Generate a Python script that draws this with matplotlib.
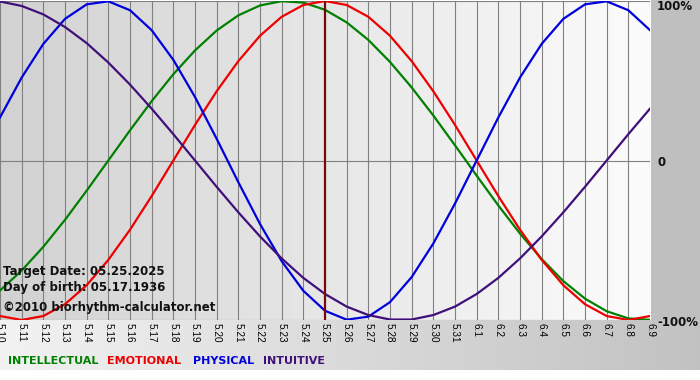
import numpy as np
import matplotlib
matplotlib.use("Agg")
import matplotlib.pyplot as plt

# day labels, 5.10 .. 6.9
dates = ["5.%d" % d for d in range(10, 32)] + ["6.%d" % d for d in range(1, 10)]
target_idx = 15  # 5.25

# values, one per day (-1 .. 1)
physical = [0.270, 0.520, 0.731, 0.888, 0.979, 0.998, 0.942, 0.817, 0.631, 0.398,
            0.136, -0.136, -0.398, -0.631, -0.817, -0.942, -0.998, -0.979, -0.888,
            -0.731, -0.520, -0.270, 0.000, 0.270, 0.520, 0.731, 0.888, 0.979, 0.998,
            0.942, 0.817]
emotional = [-0.975, -1.000, -0.975, -0.901, -0.782, -0.623, -0.434, -0.223, 0.000,
             0.223, 0.434, 0.623, 0.782, 0.901, 0.975, 1.000, 0.975, 0.901, 0.782,
             0.623, 0.434, 0.223, 0.000, -0.223, -0.434, -0.623, -0.782, -0.901,
             -0.975, -1.000, -0.975]
intellectual = [-0.815, -0.690, -0.541, -0.372, -0.189, 0.000, 0.189, 0.372, 0.541,
                0.690, 0.815, 0.910, 0.972, 0.999, 0.990, 0.945, 0.866, 0.756, 0.618,
                0.458, 0.282, 0.095, -0.095, -0.282, -0.458, -0.618, -0.756, -0.866,
                -0.945, -0.990, -0.999]
intuitive = [0.997, 0.969, 0.916, 0.837, 0.736, 0.614, 0.476, 0.325, 0.165, 0.000,
             -0.165, -0.325, -0.476, -0.614, -0.736, -0.837, -0.916, -0.969, -0.997,
             -0.997, -0.969, -0.916, -0.837, -0.736, -0.614, -0.476, -0.325, -0.165,
             0.000, 0.165, 0.325]

series = [("INTELLECTUAL", intellectual, "#008000"),
          ("EMOTIONAL", emotional, "#ee0000"),
          ("PHYSICAL", physical, "#0000dd"),
          ("INTUITIVE", intuitive, "#40107a")]

W, H = 700, 380
fig = plt.figure(figsize=(W / 100, H / 100), dpi=100)

# page background: grey panel right, gradient strip at bottom, white footer
bg = np.ones((H, W, 3))
bg[:320, 651:] = 0.75
ramp = np.linspace(0.95, 0.76, W)
bg[320:370, :] = ramp[None, :, None]
bax = fig.add_axes([0, 0, 1, 1])
bax.imshow(bg, extent=[0, W, H, 0], aspect="auto", interpolation="bilinear")
bax.set_xlim(0, W); bax.set_ylim(H, 0); bax.axis("off")

ax = fig.add_axes([0, 1 - 320 / H, 650 / W, 319 / H])
n = len(dates)
x = np.arange(n)
grad = np.linspace(0.82, 0.985, 200)[None, :]
ax.imshow(grad, extent=[0, n - 1, -1, 1], aspect="auto", cmap="gray",
          vmin=0, vmax=1, zorder=0)
for xi in x:
    ax.axvline(xi, color="#808080", lw=0.8, zorder=1)
for yv in (-1, 0, 1):
    ax.axhline(yv, color="#808080", lw=0.8, zorder=1)

for name, vals, col in series:
    ax.plot(x, vals, color=col, lw=1.6, zorder=3, solid_joinstyle="round")
ax.axvline(target_idx, color="#7a0a0a", lw=1.6, zorder=4)

ax.set_xlim(0, n - 1)
ax.set_ylim(-1, 1)
ax.set_xticks(x)
ax.set_xticklabels(dates, rotation=270, fontsize=7.2, family="Liberation Sans")
ax.tick_params(axis="x", length=0, pad=2)
ax.set_yticks([])
for s in ax.spines.values():
    s.set_visible(False)

def px(xp, yp):
    return xp / W, 1 - yp / H

bold = dict(fontsize=8.5, fontweight="bold", color="#111111", va="center", ha="left")
fig.text(*px(3, 271), "Target Date: 05.25.2025", **bold)
fig.text(*px(3, 287), "Day of birth: 05.17.1936", **bold)
fig.text(*px(3, 307), "\u00a92010 biorhythm-calculator.net", **bold)

fig.text(*px(657, 7), "100%", **bold)
fig.text(*px(657, 162), "0", **bold)
fig.text(*px(657, 322), "-100%", **bold)

leg_x = [8, 107, 193, 263]
for (name, vals, col), lx in zip(series, leg_x):
    fig.text(*px(lx, 361), name, fontsize=8, fontweight="bold", color=col,
             va="center", ha="left")

fig.savefig("out.png", dpi=100)
